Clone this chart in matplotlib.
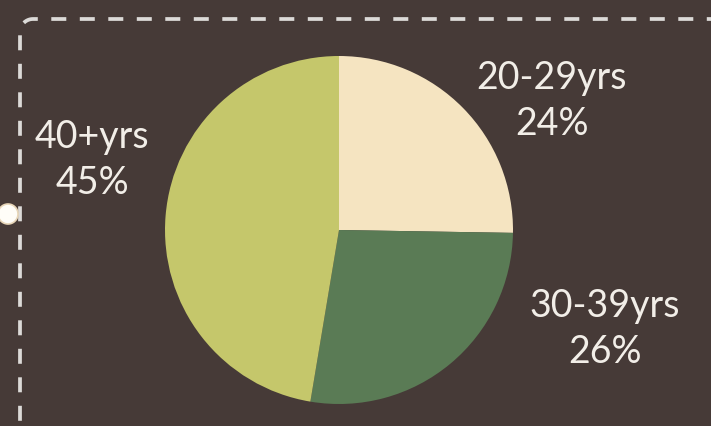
import numpy as np
import matplotlib.pyplot as plt
from matplotlib.patches import Circle

W, H = 711, 427

groups = ['20-29yrs', '30-39yrs', '40+yrs']
shares = [24, 26, 45]
colors = ['#f5e4c1', '#5a7b55', '#c5c76b']

BG = '#463a37'
TXT = '#f2eee8'

fig = plt.figure(figsize=(W / 100, H / 100), dpi=100, facecolor=BG)
ax = fig.add_axes([0, 0, 1, 1])
ax.set_facecolor(BG)
ax.set_xlim(0, W)
ax.set_ylim(0, H)
ax.set_aspect('equal')
ax.axis('off')

# pie, centre given in pixel coords (y from top)
cx, cy, r = 339, 231, 174
ax.pie(shares, colors=colors, startangle=90, counterclock=False,
       center=(cx, H - cy), radius=r, wedgeprops=dict(linewidth=0))
ax.set_xlim(0, W)
ax.set_ylim(0, H)

# labels
label_pos = [(552, 78), (605, 306), (92, 137)]
for g, s, (x, y) in zip(groups, shares, label_pos):
    ax.text(x, H - y, g, color=TXT, fontsize=27, family='Lato',
            ha='center', va='center')
    ax.text(x, H - y - 46, f'{s}%', color=TXT, fontsize=27, family='Lato',
            ha='center', va='center')

# dashed frame with rounded top-left corner
rc = 13
edge = 20
t = np.linspace(np.pi / 4, np.pi / 2, 10)
arc_up = np.c_[edge + rc - rc * np.cos(t), edge + rc - rc * np.sin(t)]
t2 = np.linspace(np.pi / 4, 0, 10)
arc_dn = np.c_[edge + rc - rc * np.cos(t2), edge + rc - rc * np.sin(t2)]
top = np.vstack([arc_up, [[W + 20, edge]]])
left = np.vstack([arc_dn, [[edge, H + 20]]])
lw = 2.7
ax.plot(top[:, 0], H - top[:, 1], color='#dcdad8', lw=lw,
        linestyle=(0, (4.0, 3.6)), solid_capstyle='butt')
ax.plot(left[:, 0], H - left[:, 1], color='#dcdad8', lw=lw,
        linestyle=(4.0, (4.0, 3.6)), solid_capstyle='butt')

# small dot on the left edge
ax.add_patch(Circle((8, H - 215), 10, facecolor='#fffdf8',
                    edgecolor='#e8d6b8', lw=1.2, zorder=5))

fig.savefig('out.png', dpi=100, facecolor=BG)
